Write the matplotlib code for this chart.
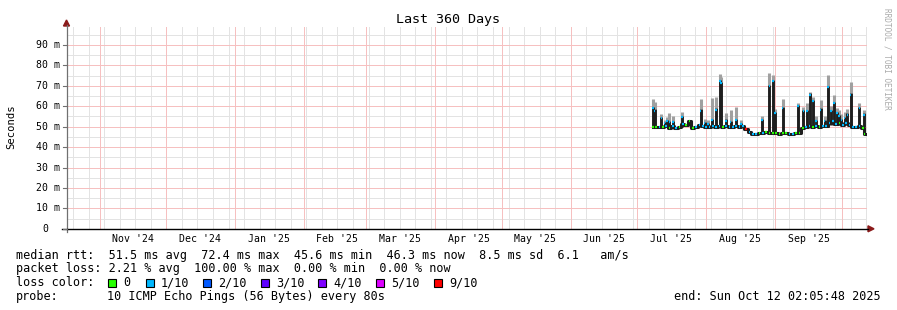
import matplotlib
matplotlib.use("Agg")
import matplotlib.pyplot as plt
import matplotlib.dates as mdates
from matplotlib.patches import Rectangle, Polygon
from matplotlib.lines import Line2D
from matplotlib.transforms import IdentityTransform, blended_transform_factory
from datetime import datetime, timedelta

# ---------------- data ----------------
END = datetime(2025, 10, 12, 2, 5, 48)
SPAN_DAYS = 360
TITLE = "Last 360 Days"
Y_LABEL = "Seconds"

ytick_values = [0, 10, 20, 30, 40, 50, 60, 70, 80, 90]
ytick_labels = ["0", "10 m", "20 m", "30 m", "40 m", "50 m", "60 m", "70 m", "80 m", "90 m"]

loss_labels = ["0", "1/10", "2/10", "3/10", "4/10", "5/10", "9/10"]
loss_colors = ["#26ff00", "#00b8ff", "#0059ff", "#5e00ff", "#7e00ff", "#dd00ff", "#ff0000"]

# median rtt (ms) baseline, positions in days before END, loss index
med_days_ago = [96.2, 94.7, 93.2, 91.7, 90.2, 88.7, 87.2, 85.7, 84.2, 82.7, 81.2, 79.7, 78.2,
                76.7, 75.2, 73.7, 72.2, 70.7, 69.2, 67.7, 66.2, 64.7, 63.2, 61.7, 60.2, 58.7,
                57.2, 55.7, 54.2, 52.7, 51.2, 49.7, 48.2, 46.7, 45.2, 43.7, 42.2, 40.7, 39.2,
                37.7, 36.2, 34.7, 33.2, 31.7, 30.2, 28.7, 27.2, 25.7, 24.2, 22.7, 21.2, 19.7,
                18.2, 16.7, 15.2, 13.7, 12.2, 10.7, 9.2, 7.7, 6.2, 4.7, 3.2, 1.7, 0.8]
med_ms = [50.0, 49.8, 50.0, 50.0, 50.5, 49.5, 50.5, 49.5, 50.0, 51.5, 51.0, 53.0, 49.5,
          50.0, 51.0, 50.3, 49.8, 50.0, 50.5, 50.0, 50.5, 50.0, 50.3, 50.0, 49.8, 50.2,
          50.0, 50.3, 49.0, 47.5, 46.5, 46.3, 46.8, 47.0, 47.5, 47.0, 47.0, 46.8, 46.6,
          46.8, 46.8, 46.5, 46.6, 46.8, 47.0, 49.5, 50.0, 50.5, 50.0, 50.3, 50.0, 50.5,
          50.5, 52.0, 53.0, 51.5, 52.0, 51.0, 52.0, 51.0, 50.0, 49.8, 50.5, 49.5, 46.3]
med_loss = [0, 0, 1, 0, 1, 0, 1, 1, 0, 1, 0, 0, 0,
            1, 1, 1, 1, 1, 1, 1, 1, 0, 1, 1, 1, 1,
            1, 1, 6, 1, 1, 1, 0, 1, 0, 0, 0, 0, 0,
            0, 0, 1, 1, 0, 0, 0, 1, 1, 0, 1, 0, 1,
            1, 1, 1, 1, 0, 1, 1, 1, 1, 1, 1, 0, 0]

# latency spikes: days before END, bar base, dense-smoke top, light-smoke top (ms), loss index
spike_days_ago = [96.2, 95.3, 92.3, 90.9, 89.9, 88.7, 87.0, 83.0, 74.7, 72.9, 71.4, 69.6, 67.7,
                  66.0, 65.4, 63.2, 61.1, 58.7, 56.4, 47.0, 43.7, 42.0, 41.1, 37.8, 30.9, 28.4,
                  26.7, 25.5, 24.0, 22.7, 20.7, 18.9, 17.3, 15.9, 14.7, 13.4, 12.5, 11.3, 9.9,
                  8.6, 7.1, 3.2, 1.2]
spike_base = [50, 50, 50, 50, 50, 50, 50, 50, 50, 50, 50, 50, 50,
              50, 50, 50, 50, 50, 50, 47, 47, 47, 47, 47, 47, 49.5,
              50, 50, 50, 50, 50, 50, 50, 51, 51, 51, 51, 51, 51,
              51, 50, 50, 50]
spike_top = [59.8, 58.5, 54.9, 52.4, 53.3, 52.8, 53.0, 55.2, 58.5, 52.4, 52.0, 54.0, 59.0,
             72.9, 72.0, 53.6, 52.8, 54.0, 52.0, 54.0, 70.4, 72.9, 57.3, 59.8, 60.6, 58.2,
             58.2, 66.3, 63.1, 53.3, 59.0, 53.3, 69.9, 58.2, 62.2, 57.3, 55.7, 54.0, 54.9,
             56.5, 66.3, 59.8, 56.5]
spike_smoke = [63.4, 62.0, 56.0, 53.5, 54.5, 56.5, 55.0, 57.3, 63.4, 54.0, 53.5, 63.9, 64.7,
               75.8, 74.5, 56.5, 58.0, 59.8, 53.5, 55.0, 76.1, 75.3, 58.5, 63.4, 61.4, 59.5,
               61.4, 67.1, 64.5, 55.0, 63.0, 55.0, 75.3, 60.0, 65.5, 59.0, 58.0, 56.0, 57.0,
               58.5, 72.0, 61.5, 58.0]
spike_loss = [1, 1, 1, 1, 1, 1, 1, 1, 1, 1, 1, 1, 1,
              1, 1, 1, 1, 1, 1, 1, 1, 1, 1, 1, 1, 1,
              1, 1, 1, 1, 1, 1, 1, 1, 1, 1, 1, 1, 1,
              1, 1, 1, 1]

legend_rtt = "median rtt:  51.5 ms avg  72.4 ms max  45.6 ms min  46.3 ms now  8.5 ms sd  6.1   am/s"
legend_loss = "packet loss: 2.21 % avg  100.00 % max  0.00 % min  0.00 % now"
legend_color = "loss color:"
legend_probe_key = "probe:"
legend_probe = "10 ICMP Echo Pings (56 Bytes) every 80s"
legend_end = "end: Sun Oct 12 02:05:48 2025"
credit = "RRDTOOL / TOBI OETIKER"

# ---------------- layout ----------------
W, H = 897, 310
MONO = "DejaVu Sans Mono"
X0, X1 = 66.5, 866.5
Y0, Y1 = 228.8, 26.6
YMAX = 99.0
START = END - timedelta(days=SPAN_DAYS)

fig = plt.figure(figsize=(W / 100, H / 100), dpi=100)
fig.patch.set_facecolor("white")
ax = fig.add_axes([X0 / W, 1 - Y0 / H, (X1 - X0) / W, (Y0 - Y1) / H])
ax.set_facecolor("white")
ax.set_xlim(mdates.date2num(START), mdates.date2num(END))
ax.set_ylim(0, YMAX)
for s in ax.spines.values():
    s.set_visible(False)
ax.set_xticks([])
ax.set_yticks([])

# dotted rrdtool grid approximated by light solid hairlines
MINOR_C = "#e3e3e3"
MAJOR_C = "#f6c0c0"
GLW = 0.72

# horizontal grid
for v in range(5, 100, 10):
    ax.axhline(v, color=MINOR_C, lw=GLW, zorder=0)
for v in ytick_values[1:]:
    ax.axhline(v, color=MAJOR_C, lw=GLW, zorder=0.5)

# vertical grid: weekly (Sundays) and monthly
month_starts = []
y, m = START.year, START.month
while True:
    m += 1
    if m > 12:
        m = 1
        y += 1
    ms = datetime(y, m, 1)
    if ms >= END:
        break
    month_starts.append(ms)

d = datetime(START.year, START.month, START.day) + timedelta(days=1)
while d < END:
    if d.weekday() == 6 and d.day != 1:
        ax.axvline(mdates.date2num(d), color=MINOR_C, lw=GLW, zorder=0)
    d += timedelta(days=1)
for ms in month_starts:
    ax.axvline(mdates.date2num(ms), color=MAJOR_C, lw=GLW, zorder=0.5)

# month labels at mid-month
lab_tr = blended_transform_factory(ax.transData, fig.transFigure)
for ms in [datetime(START.year, START.month, 1)] + month_starts:
    mid = ms + timedelta(days=15)
    if START <= mid <= END:
        ax.text(mdates.date2num(mid), 1 - 238.5 / H, mid.strftime("%b '%y"),
                transform=lab_tr, ha="center", va="center", family=MONO, fontsize=7.1,
                color="#000000")

# y tick labels
ytr = blended_transform_factory(fig.transFigure, ax.transData)
for v, lab in zip(ytick_values, ytick_labels):
    xr = 59.8 if lab != "0" else 48.6
    ax.text(xr / W, v, lab, transform=ytr, ha="right", va="center", family=MONO,
            fontsize=7.1, color="#000000")

# ---------------- data ----------------
def to_num(days):
    return [mdates.date2num(END - timedelta(days=x)) for x in days]

md = to_num(med_days_ago)
sd = to_num(spike_days_ago)

# light smoke above spikes
ax.vlines(sd, spike_top, spike_smoke, color="#a0a0a0", lw=2.2, zorder=2)
# dense smoke core along the baseline
ax.step(md, med_ms, where="mid", color="#1e1e1e", lw=2.2, zorder=3)
# dense smoke spikes
ax.vlines(sd, spike_base, spike_top, color="#1e1e1e", lw=2.1, zorder=3)
# median, coloured by loss
half = 0.35
for x, v, l in zip(md, med_ms, med_loss):
    ax.hlines(v, x - half, x + half, color=loss_colors[l], lw=1.6, zorder=4)
for x, v, l in zip(sd, spike_top, spike_loss):
    ax.hlines(v - 0.6, x - 0.35, x + 0.35, color=loss_colors[l], lw=1.6, zorder=4)

# ---------------- axes lines & arrows (pixel coords) ----------------
ID = IdentityTransform()
def P(x, y):
    return (x, H - y)

fig.add_artist(Line2D([X0, X0], [H - Y0 - 3, H - 25], color="#707070", lw=0.9, transform=ID))
fig.add_artist(Line2D([62, 868], [H - Y0, H - Y0], color="#000000", lw=1.0, transform=ID))
for v in ytick_values:
    yy = H - (Y0 - v * (Y0 - Y1) / YMAX)
    fig.add_artist(Line2D([62.5, X0], [yy, yy], color="#707070", lw=0.8, transform=ID))
fig.add_artist(Polygon([P(X0 - 3, 26), P(X0 + 3, 26), P(X0, 20)], closed=True,
                       color="#8b1a1a", transform=ID))
fig.add_artist(Polygon([P(868, Y0 - 3), P(868, Y0 + 3), P(874, Y0)], closed=True,
                       color="#8b1a1a", transform=ID))

# ---------------- texts ----------------
def ftext(x, y, s, **kw):
    kw.setdefault("family", MONO)
    kw.setdefault("va", "center")
    kw.setdefault("color", "#000000")
    fig.text(x / W, 1 - y / H, s, **kw)

ftext(448, 19, TITLE, ha="center", fontsize=9.6)
ftext(11, 127, Y_LABEL, ha="center", rotation=90, fontsize=7.6)
ftext(887, 59, credit, ha="center", rotation=270, fontsize=5.6, color="#aaaaaa")

LFS = 8.5
ftext(16, 255, legend_rtt, ha="left", fontsize=LFS)
ftext(16, 268.5, legend_loss, ha="left", fontsize=LFS)
ftext(16, 282.5, legend_color, ha="left", fontsize=LFS)
sw_x = [108, 146, 203, 261, 318, 376, 434]
for x, c, lab in zip(sw_x, loss_colors, loss_labels):
    fig.add_artist(Rectangle((x, H - 286.5), 8, 8, facecolor=c, edgecolor="#000000",
                             lw=0.8, transform=ID))
    ftext(x + 15, 282.5, lab, ha="left", fontsize=LFS)
ftext(16, 296.5, legend_probe_key, ha="left", fontsize=LFS)
ftext(107, 296.5, legend_probe, ha="left", fontsize=LFS)
ftext(880.5, 296.5, legend_end, ha="right", fontsize=LFS)

fig.savefig("out.png", dpi=100, facecolor="white")
